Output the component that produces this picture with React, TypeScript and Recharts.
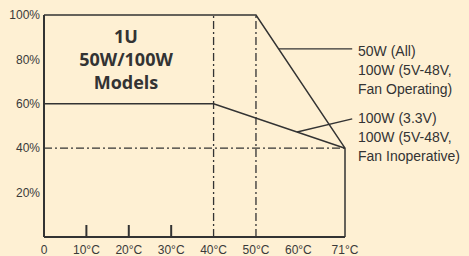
import { ComposedChart, Line, XAxis, YAxis, ReferenceLine } from 'recharts'

// ambient temperature (°C) vs. output load (%)
const tempTicks = [0, 10, 20, 30, 40, 50, 60, 71]
const loadTicks = [20, 40, 60, 80, 100]
const minorTempTicks = [10, 20, 30]

const curveFanOn = [
  { t: 0, load: 100 },
  { t: 50, load: 100 },
  { t: 71, load: 40 },
  { t: 71, load: 0 },
]
const curveFanOff = [
  { t: 0, load: 60 },
  { t: 40, load: 60 },
  { t: 71, load: 40 },
]

const dashTemps = [40, 50]
const dashLoads = [40]

// callout leaders, in data units
const leaders = [
  { x1: 55.4, y1: 84.7, x2: 72.7, y2: 84.7 },
  { x1: 59.7, y1: 47.3, x2: 72.7, y2: 53.2 },
]

const INK = '#333'
const BG = '#FEF0D3'
const dashDot = '8 3 2 3'
const FONT = '"Liberation Sans", Arial, sans-serif'

const tickStyle = { fontSize: 12, fill: '#3a3a3a', fontFamily: FONT }

const fanOnLabel = ['50W (All)', '100W (5V-48V,', 'Fan Operating)']
const fanOffLabel = ['100W (3.3V)', '100W (5V-48V,', 'Fan Inoperative)']
const modelLabel = ['1U', '50W/100W', 'Models']

const TICK_OFFSET = 8 // default tickSize 6 + tickMargin 2

function TempTick(props: any) {
  const { x, y, payload } = props
  const v = payload.value
  const axisY = y - TICK_OFFSET
  return (
    <g>
      {minorTempTicks.includes(v) && (
        <path d={`M${x},${axisY}V${axisY - 12}`} stroke={INK} strokeWidth={2} />
      )}
      <text x={x} y={y} dy="0.71em" textAnchor="middle" {...tickStyle}>
        {v === 0 ? '0' : `${v}°C`}
      </text>
    </g>
  )
}

function Callout({ lines, top }: { lines: string[]; top: number }) {
  return (
    <div
      style={{
        position: 'absolute',
        left: 358,
        top,
        fontFamily: FONT,
        fontSize: 14,
        lineHeight: '19px',
        color: '#333',
        whiteSpace: 'nowrap',
      }}
    >
      {lines.map((l) => (
        <div key={l}>{l}</div>
      ))}
    </div>
  )
}

export default function App() {
  return (
    <div style={{ position: 'absolute', left: 0, top: 0, width: 469, height: 256, background: BG, overflow: 'hidden' }}>
      <ComposedChart width={469} height={256} margin={{ top: 15, right: 124, bottom: 0, left: 0 }}>
        <XAxis
          type="number"
          dataKey="t"
          domain={[0, 71]}
          ticks={tempTicks}
          interval={0}
          height={19}
          tickLine={false}
          axisLine={{ stroke: INK, strokeWidth: 2 }}
          tick={(p: any) => <TempTick {...p} />}
        />
        <YAxis
          type="number"
          domain={[0, 100]}
          ticks={loadTicks}
          width={44}
          tickLine={false}
          tickSize={0}
          tickMargin={4}
          axisLine={{ stroke: INK, strokeWidth: 2 }}
          tick={tickStyle}
          tickFormatter={(v) => `${v}%`}
        />
        {dashTemps.map((t) => (
          <ReferenceLine key={`vx${t}`} x={t} stroke={INK} strokeWidth={1.3} strokeDasharray={dashDot} />
        ))}
        {dashLoads.map((l) => (
          <ReferenceLine key={`hy${l}`} y={l} stroke={INK} strokeWidth={1.3} strokeDasharray={dashDot} />
        ))}
        {leaders.map((d, i) => (
          <ReferenceLine
            key={`ld${i}`}
            segment={[{ x: d.x1, y: d.y1 }, { x: d.x2, y: d.y2 }]}
            stroke={INK}
            strokeWidth={1.3}
            ifOverflow="visible"
          />
        ))}
        <Line
          data={curveFanOn}
          dataKey="load"
          type="linear"
          stroke={INK}
          strokeWidth={1.5}
          dot={false}
          activeDot={false}
          isAnimationActive={false}
        />
        <Line
          data={curveFanOff}
          dataKey="load"
          type="linear"
          stroke={INK}
          strokeWidth={1.5}
          dot={false}
          activeDot={false}
          isAnimationActive={false}
        />
      </ComposedChart>
      <div
        style={{
          position: 'absolute',
          left: 66,
          top: 25,
          width: 120,
          textAlign: 'center',
          fontFamily: '"Open Sans", sans-serif',
          fontWeight: 700,
          fontSize: 18,
          lineHeight: '23px',
          color: '#333',
        }}
      >
        {modelLabel.map((l) => (
          <div key={l}>{l}</div>
        ))}
      </div>
      <Callout lines={fanOnLabel} top={42} />
      <Callout lines={fanOffLabel} top={109} />
    </div>
  )
}
